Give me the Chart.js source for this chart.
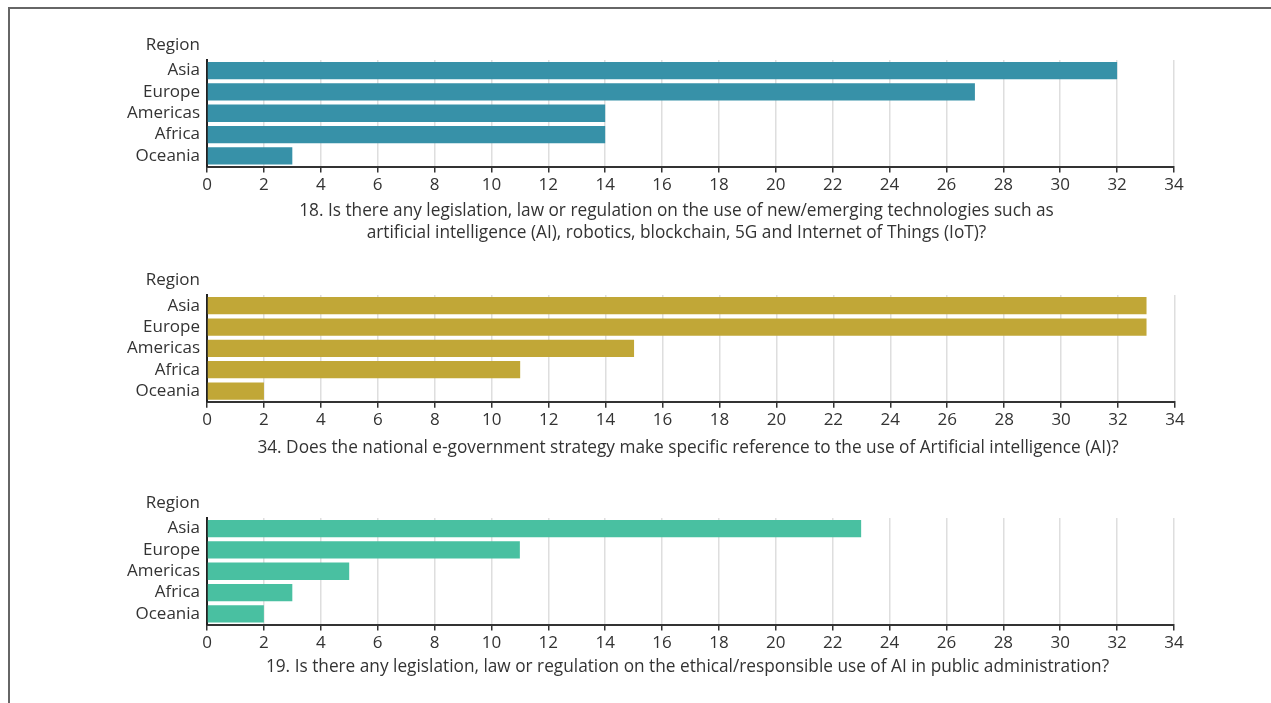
<!DOCTYPE html>
<html>
<head>
<meta charset="utf-8">
<script src="https://cdn.jsdelivr.net/npm/chart.js@4.4.1/dist/chart.umd.min.js"></script>
<style>
  html, body { margin: 0; padding: 0; background: #ffffff; }
  body { width: 1271px; height: 703px; position: relative; overflow: hidden; }
  .frame { position: absolute; left: 8px; top: 7px; width: 1300px; height: 720px;
           border-top: 2px solid #666666; border-left: 2px solid #666666; box-sizing: border-box; }
  .box { position: absolute; left: 0; width: 1271px; }
</style>
</head>
<body>
<div class="frame"></div>
<div class="box" style="top:30px;height:218px;"><canvas id="c1"></canvas></div>
<div class="box" style="top:265px;height:198px;"><canvas id="c2"></canvas></div>
<div class="box" style="top:488px;height:194px;"><canvas id="c3"></canvas></div>
<script>
// ---- Data ----
const regions = ['Asia', 'Europe', 'Americas', 'Africa', 'Oceania'];
const yAxisTitle = 'Region';

const q18Values = [32, 27, 14, 14, 3];
const q34Values = [33, 33, 15, 11, 2];
const q19Values = [23, 11, 5, 3, 2];

const xMin = 0;
const xMax = 34;
const xStep = 2;

const q18Title = [
  '18. Is there any legislation, law or regulation on the use of new/emerging technologies such as',
  'artificial intelligence (AI), robotics, blockchain, 5G and Internet of Things (IoT)?'
];
const q34Title = ['34. Does the national e-government strategy make specific reference to the use of Artificial intelligence (AI)?'];
const q19Title = ['19. Is there any legislation, law or regulation on the ethical/responsible use of AI in public administration?'];

const q18Color = '#3791a8';
const q34Color = '#c1a737';
const q19Color = '#49c0a1';

// ---- Chart builder ----
const FONT = "'Open Sans', 'Noto Sans', sans-serif";
const TEXT = '#333333';

const labelsPlugin = {
  id: 'extraLabels',
  afterDraw(chart, args, opts) {
    const ctx = chart.ctx;
    const area = chart.chartArea;
    ctx.save();
    ctx.fillStyle = TEXT;
    ctx.textBaseline = 'middle';
    // y-axis title above the category labels
    ctx.font = "17px " + FONT;
    ctx.textAlign = 'right';
    ctx.fillText(yAxisTitle, area.left - 7, area.top - 15);
    // x-axis question title
    ctx.font = "17.25px " + FONT;
    ctx.textAlign = 'center';
    const cx = (area.left + area.right) / 2 + opts.dx;
    opts.lines.forEach((line, i) => {
      ctx.fillText(line, cx, area.bottom + opts.offset + i * opts.lineHeight);
    });
    ctx.restore();
  }
};

function makeChart(canvasId, values, color, titleLines, cfg) {
  return new Chart(document.getElementById(canvasId), {
    type: 'bar',
    data: {
      labels: regions,
      datasets: [{
        data: values,
        backgroundColor: color,
        borderWidth: 0,
        barPercentage: 0.81,
        categoryPercentage: 1.0
      }]
    },
    options: {
      indexAxis: 'y',
      responsive: true,
      maintainAspectRatio: false,
      animation: false,
      layout: { padding: { top: 30, bottom: cfg.padBottom, left: 0, right: cfg.padRight } },
      plugins: {
        legend: { display: false }, tooltip: { enabled: false }, title: { display: false },
        extraLabels: { lines: titleLines, dx: cfg.dx, offset: cfg.offset, lineHeight: 21.5 }
      },
      scales: {
        x: {
          min: xMin,
          max: xMax,
          afterFit(scale) { scale.height = cfg.axisHeight; },
          ticks: { stepSize: xStep, color: TEXT, padding: 4, maxRotation: 0, autoSkip: false,
                   font: { family: FONT, size: 17, lineHeight: 1.0 } },
          grid: { display: true, color: '#dedede', lineWidth: 1.5, drawTicks: true,
                  tickLength: 6, tickColor: '#333333', tickWidth: 1.5 },
          border: { display: true, color: '#333333', width: 2 },
          title: { display: false }
        },
        y: {
          afterFit(scale) { scale.width = 207; },
          ticks: { color: TEXT, padding: 7, autoSkip: false, font: { family: FONT, size: 17 } },
          grid: { display: false, drawTicks: false },
          border: { display: true, color: '#222222', width: 2 }
        }
      }
    },
    plugins: [labelsPlugin]
  });
}

makeChart('c1', q18Values, q18Color, q18Title, { padBottom: 3.75, axisHeight: 77.75, padRight: 97, dx: -14, offset: 45 });
makeChart('c2', q34Values, q34Color, q34Title, { padBottom: 4.25, axisHeight: 57, padRight: 96, dx: -3, offset: 46 });
makeChart('c3', q19Values, q19Color, q19Title, { padBottom: 3.75, axisHeight: 53.75, padRight: 97, dx: -3, offset: 43 });
</script>
</body>
</html>
